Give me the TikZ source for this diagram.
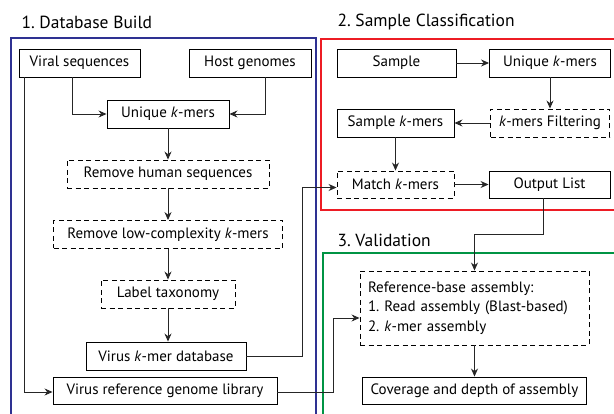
\documentclass[tikz,border=0pt]{standalone}
\usepackage{fontspec}
\setmainfont{PT Sans}
\usetikzlibrary{arrows.meta}
\frenchspacing

\definecolor{dbblue}{RGB}{46,49,146}
\definecolor{clred}{RGB}{237,28,36}
\definecolor{vagreen}{RGB}{0,148,68}

\tikzset{
	stepbox/.style={draw, line width=0.9pt, inner sep=0pt, minimum height=28pt, font=\fontsize{15}{19.5}\selectfont},
	dashbox/.style={stepbox, dash pattern=on 5pt off 3.5pt},
	arr/.style={line width=0.9pt, draw=black!85, -{Stealth[length=8pt,width=7pt]}},
	phase/.style={anchor=west, font=\fontsize{17.5}{20}\selectfont}
}
\newcommand{\km}{\textit{k}}

\begin{document}
\begin{tikzpicture}[x=1pt, y=-1pt]
		%%%%% START %%%%%
		\useasboundingbox (0,0) rectangle (614,414);
		\clip (0,0) rectangle (614,414);
		
		% phase frames
		\draw[line width=1.6pt, color=dbblue] (11, 38) rectangle (316, 430);
		\draw[line width=1.6pt, color=clred] (321, 39) rectangle (630, 210);
		\draw[line width=1.6pt, color=vagreen] (323, 253) rectangle (630, 430);
		
		\node[phase] (t1) at (18, 22) {1. Database Build};
		\node[phase] (t2) at (334, 22) {2. Sample Classification};
		\node[phase] (t3) at (334, 240) {3. Validation};
		
		% database build
		\node[stepbox, minimum width=121pt] (viral) at (79.5, 63) {Viral sequences};
		\node[stepbox, minimum width=122pt] (host) at (250, 63) {Host genomes};
		\node[stepbox, minimum width=122pt] (uniq) at (168, 114) {Unique \km-mers};
		\node[dashbox, minimum width=202pt] (rmhum) at (168, 174) {Remove human sequences};
		\node[dashbox, minimum width=229pt] (rmlow) at (168, 234.5) {Remove low-complexity \km-mers};
		\node[dashbox, minimum width=134pt] (label) at (168, 294) {Label taxonomy};
		\node[stepbox, minimum width=160pt] (kdb) at (166, 356) {Virus \km-mer database};
		\node[stepbox, minimum width=224pt, minimum height=27pt] (lib) at (165, 390.5) {Virus reference genome library};
		
		\draw[arr] ([xshift=-7pt]viral.south) |- (uniq.west);
		\draw[arr] ([xshift=15pt]host.south) |- (uniq.east);
		\draw[arr] (uniq.south) -- (rmhum.north);
		\draw[arr] (rmhum.south) -- (rmlow.north);
		\draw[arr] (rmlow.south) -- (label.north);
		\draw[arr] (label.south) -- (label.south |- kdb.north);
		\draw[arr] ([xshift=6pt]viral.south west) |- ([yshift=-1.5pt]lib.west);
		
		% sample classification
		\node[stepbox, minimum width=119pt] (sample) at (396.5, 63) {Sample};
		\node[stepbox, minimum width=121pt] (uniq2) at (550, 63) {Unique \km-mers};
		\node[dashbox, minimum width=119pt] (filt) at (550, 123) {\km-mers Filtering};
		\node[stepbox, minimum width=117pt] (skm) at (395.5, 123) {Sample \km-mers};
		\node[dashbox, minimum width=117pt, minimum height=27pt] (match) at (395.5, 184.5) {Match \km-mers};
		\node[stepbox, minimum width=121pt, minimum height=27pt] (outl) at (549.5, 184.5) {Output List};
		
		\draw[arr] (sample.east) -- (uniq2.west);
		\draw[arr] (uniq2.south) -- (filt.north);
		\draw[arr] (filt.west) -- (skm.east);
		\draw[arr] (skm.south) -- (match.north);
		\draw[arr] (match.east) -- (outl.west);
		\draw[arr] (kdb.east) -- ++(56, 0) |- ([yshift=-3pt]match.west);
		
		% validation
		\node[dashbox, minimum width=229pt, minimum height=74pt, text width=213pt, align=left] (ref) at (474.5, 308)
			{Reference-base assembly:\\1. Read assembly (Blast-based)\\2. \km-mer assembly};
		\node[stepbox, minimum width=224pt, minimum height=27pt] (cov) at (474.5, 390.5) {Coverage and depth of assembly};
		
		\draw[arr] ([xshift=-6pt]outl.south) -- ++(0, 36) -| (ref.north);
		\draw[arr] ([yshift=-1.5pt]lib.east) -| ++(56, -74) |- ([yshift=-10pt]ref.west);
		\draw[arr] (ref.south) -- (cov.north);
		
		%%%%% END %%%%%
	\end{tikzpicture}
\end{document}
